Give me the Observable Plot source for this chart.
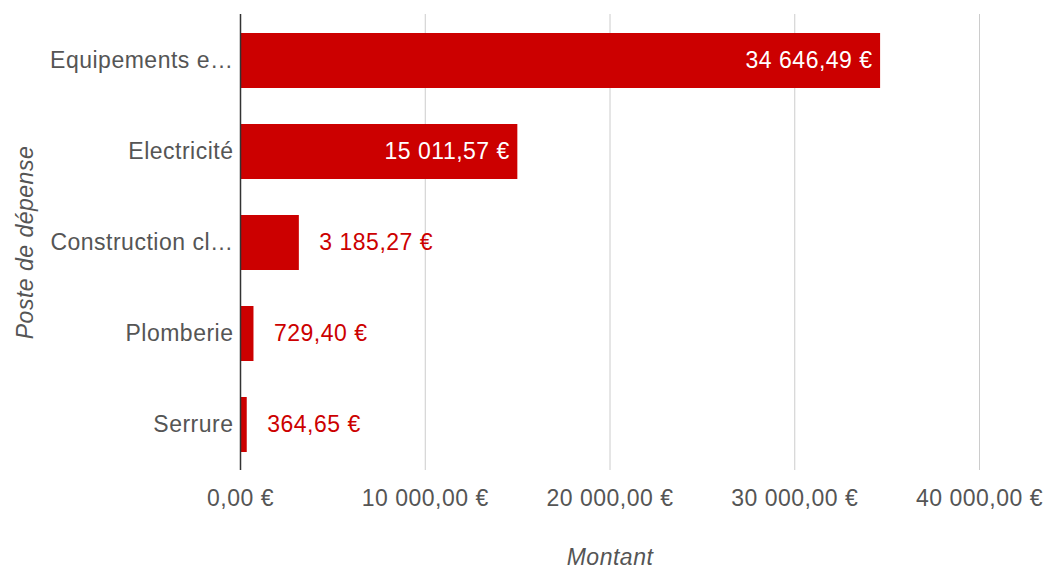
<!DOCTYPE html>
<html><head><meta charset="utf-8">
<script src="https://cdn.jsdelivr.net/npm/d3@7"></script>
<script src="https://cdn.jsdelivr.net/npm/@observablehq/plot@0.6"></script>
<style>
html,body{margin:0;padding:0;background:#fff;}
svg{font-family:"Liberation Sans",Arial,sans-serif;letter-spacing:0.5px;}
</style></head>
<body><div id="chart"></div>
<script>
const categories = ["Equipements e…", "Electricité", "Construction cl…", "Plomberie", "Serrure"];
const values = [34646.49, 15011.57, 3185.27, 729.40, 364.65];
const xTicks = [0, 10000, 20000, 30000, 40000];

const data = categories.map((c, i) => ({cat: c, val: values[i]}));

function fmt(v) {
  const [ip, dp] = v.toFixed(2).split(".");
  const withSp = ip.replace(/\B(?=(\d{3})+(?!\d))/g, " ");
  return withSp + "," + dp + " €";
}

const FS = 23;
const TXT = "#555";
const chart = Plot.plot({
  width: 1048,
  height: 571,
  marginLeft: 240,
  marginRight: 69,
  marginTop: 14,
  marginBottom: 101,
  style: {fontFamily: '"Liberation Sans", Arial, sans-serif', fontSize: FS + "px", color: TXT, background: "#fff", letterSpacing: "0.5px"},
  x: {domain: [0, 40000], axis: null},
  y: {domain: categories, axis: null, paddingInner: 0.4, paddingOuter: 0.2},
  marks: [
    Plot.gridX(xTicks, {stroke: "#ccc", strokeOpacity: 1, strokeWidth: 1}),
    Plot.barX(data, {x: "val", y: "cat", fill: "#cc0000"}),
    Plot.ruleX([0], {stroke: "#333", strokeWidth: 1.5}),
    Plot.axisX(xTicks, {tickSize: 0, tickPadding: 19, tickFormat: fmt, label: null, fontSize: FS, fill: TXT}),
    Plot.axisY({tickSize: 0, tickPadding: 7, label: null, fontSize: FS, fill: TXT}),
    Plot.text(data.filter(d => d.val > 10000), {x: "val", y: "cat", text: d => fmt(d.val), textAnchor: "end", dx: -8, fill: "#fff", fontSize: FS}),
    Plot.text(data.filter(d => d.val <= 10000), {x: "val", y: "cat", text: d => fmt(d.val), textAnchor: "start", dx: 20, fill: "#c00", fontSize: FS}),
    Plot.text(["Montant"], {frameAnchor: "bottom", dy: 87, lineAnchor: "middle", text: d => d, fontStyle: "italic", fill: TXT, fontSize: FS}),
    Plot.text(["Poste de dépense"], {frameAnchor: "left", dx: -215, rotate: -90, textAnchor: "middle", lineAnchor: "middle", text: d => d, fontStyle: "italic", fill: TXT, fontSize: FS})
  ]
});
document.getElementById("chart").appendChild(chart);
</script>
</body></html>
